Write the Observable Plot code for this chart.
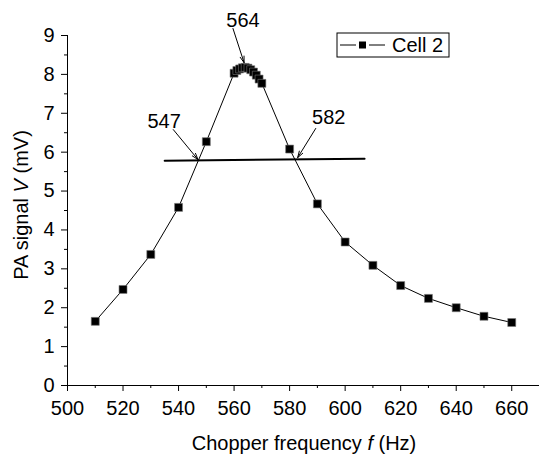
<!DOCTYPE html>
<html><head><meta charset="utf-8">
<script src="https://cdn.jsdelivr.net/npm/d3@7"></script>
<script src="https://cdn.jsdelivr.net/npm/@observablehq/plot@0.6"></script>
<style>
body{margin:0;background:#fff;}
#wrap{position:relative;width:539px;height:457px;}
</style>
</head><body><div id="wrap"></div>
<script>
// Data
const freq  = [510, 520, 530, 540, 550, 560, 561, 562, 563, 564, 565, 566, 567, 568, 569, 570, 580, 590, 600, 610, 620, 630, 640, 650, 660];
const signal= [1.65, 2.47, 3.37, 4.58, 6.27, 8.03, 8.10, 8.14, 8.17, 8.18, 8.16, 8.12, 8.06, 7.98, 7.88, 7.77, 6.08, 4.67, 3.69, 3.09, 2.57, 2.24, 2.00, 1.78, 1.62];
const seriesName = "Cell 2";

// Half-maximum level line
const levelX = [535, 607];
const levelY = [5.78, 5.83];

// Annotations
const annoLabels = ["547", "564", "582"];
const annoX = [534.8, 563.2, 594.1];
const annoY = [6.79, 9.38, 6.89];
const arrowX1 = [538.1, 559.6, 589.4];
const arrowY1 = [6.58, 9.18, 6.61];
const arrowX2 = [547.0, 563.6, 582.9];
const arrowY2 = [5.81, 8.30, 5.86];

const xMajor = d3.range(500, 661, 20);
const xMinor = d3.range(510, 671, 20);
const yMajor = d3.range(0, 10, 1);
const yMinor = d3.range(0.5, 9, 1);

const pts = freq.map((f, i) => ({f, v: signal[i]}));
const level = levelX.map((x, i) => ({x, y: levelY[i]}));
const annos = annoLabels.map((t, i) => ({t, x: annoX[i], y: annoY[i], x1: arrowX1[i], y1: arrowY1[i], x2: arrowX2[i], y2: arrowY2[i]}));

const font = "'Liberation Sans', Arial, sans-serif";

const chart = Plot.plot({
  width: 539, height: 457,
  marginLeft: 67, marginRight: 0, marginTop: 35, marginBottom: 72,
  style: {fontFamily: font, fontSize: "20px", color: "#000", background: "#fff"},
  x: {domain: [500, 670]},
  y: {domain: [0, 9]},
  marks: [
    Plot.axisX({ticks: xMajor, tickSize: 6, tickPadding: 9, tickFormat: d => d, label: null, fontSize: 20}),
    Plot.axisX({ticks: xMinor, tickSize: 3, tickFormat: () => "", label: null}),
    Plot.axisY({ticks: yMajor, tickSize: 6, tickPadding: 7, tickFormat: d => d, label: null, fontSize: 20}),
    Plot.axisY({ticks: yMinor, tickSize: 3, tickFormat: () => "", label: null}),
    Plot.ruleY([0], {stroke: "#000", strokeWidth: 1}),
    Plot.ruleX([500], {stroke: "#000", strokeWidth: 1}),
    Plot.line(level, {x: "x", y: "y", stroke: "#000", strokeWidth: 2}),
    Plot.line(pts, {x: "f", y: "v", stroke: "#000", strokeWidth: 1}),
    Plot.dot(pts, {x: "f", y: "v", symbol: "square", r: 4.5, fill: "#000", stroke: "#777", strokeWidth: 0.6}),
    Plot.arrow(annos, {x1: "x1", y1: "y1", x2: "x2", y2: "y2", stroke: "#000", strokeWidth: 1, headLength: 10, headAngle: 35, bend: false}),
    Plot.text(annos, {x: "x", y: "y", text: "t", fontSize: 20, fill: "#000", textAnchor: "middle", lineAnchor: "middle", clip: false})
  ]
});

document.getElementById("wrap").appendChild(chart);

const svg = d3.select(chart);
// Axis titles with italic symbols
const xt = svg.append("text").attr("x", 304).attr("y", 450).attr("text-anchor", "middle")
  .attr("font-family", font).attr("font-size", 20).attr("fill", "#000");
xt.append("tspan").text("Chopper frequency ");
xt.append("tspan").attr("font-style", "italic").text("f");
xt.append("tspan").text(" (Hz)");

const yt = svg.append("text").attr("transform", "translate(28,205) rotate(-90)").attr("text-anchor", "middle")
  .attr("font-family", font).attr("font-size", 20).attr("fill", "#000");
yt.append("tspan").text("PA signal ");
yt.append("tspan").attr("font-style", "italic").text("V");
yt.append("tspan").text(" (mV)");

// Legend
const lg = svg.append("g").attr("transform", "translate(337,33)");
lg.append("rect").attr("width", 112).attr("height", 24).attr("fill", "#fff").attr("stroke", "#000").attr("stroke-width", 1);
lg.append("line").attr("x1", 3).attr("x2", 19).attr("y1", 12).attr("y2", 12).attr("stroke", "#000");
lg.append("line").attr("x1", 32).attr("x2", 48).attr("y1", 12).attr("y2", 12).attr("stroke", "#000");
lg.append("rect").attr("x", 22).attr("y", 8.5).attr("width", 7).attr("height", 7).attr("fill", "#000");
lg.append("text").attr("x", 55).attr("y", 19).attr("text-anchor", "start").attr("font-family", font).attr("font-size", 20).attr("fill", "#000").text(seriesName);
</script>
</body></html>
